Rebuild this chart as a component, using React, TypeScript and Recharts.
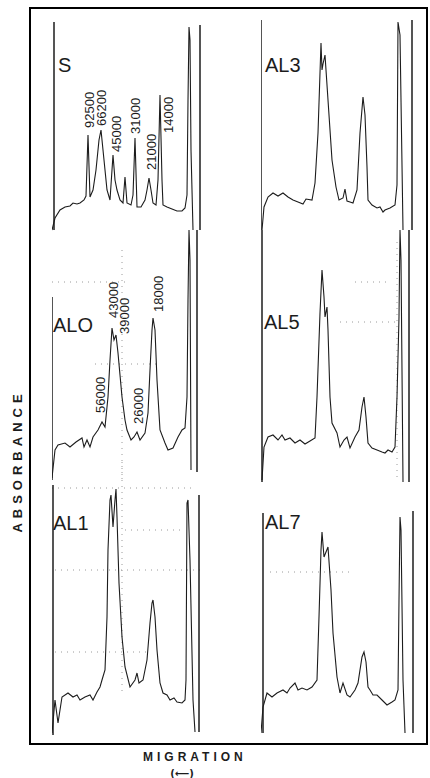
import React from 'react';
import { LineChart, Line, XAxis, YAxis, ReferenceLine } from 'recharts';

// densitometer scans: [migration, absorbance] (arbitrary units)
const traceS: [number, number][] = [
  [0, 1], [1.5, 7], [4, 11], [6.5, 12.5], [9, 13], [10.5, 14.5], [12.5, 14], [14, 14.5],
  [16, 16], [17, 18], [18, 48.5], [19, 17.5], [20.5, 21], [22, 31], [23.5, 46], [24.5, 51],
  [26, 36], [27.5, 21], [29, 16], [30.5, 38.5], [31.5, 26], [32.5, 21], [34, 16], [35.5, 14.5],
  [36.5, 27.5], [37.5, 14.5], [39.5, 13.5], [40.5, 18.5], [41.5, 47], [42.5, 12.5], [44.5, 12.5],
  [46.5, 16], [47.5, 21], [48.5, 27], [49.5, 21], [50.5, 14.5], [52, 13.5], [53, 26], [54, 68.5],
  [55, 26], [55.5, 13.5], [57.5, 12.5], [60, 11.5], [62.5, 10.5], [65, 10.5], [66.5, 12],
  [67.5, 18.5], [68, 66], [68.5, 102.5], [69, 96], [69.5, 41], [70.5, 1],
];

const traceAL0: [number, number][] = [
  [0, -8], [1.5, 6], [3, 8.5], [6.5, 9.5], [9, 7.5], [12, 10], [15, 12], [16, 7.5], [17.5, 11],
  [19, 7.5], [20.5, 12.5], [23, 16], [25, 20], [26.5, 17.5], [28, 32.5], [29, 51], [30, 67],
  [31, 61], [32, 63.5], [33, 54.5], [34, 43.5], [35, 32.5], [36.5, 21], [37.5, 16], [39.5, 11],
  [41, 12.5], [42.5, 15], [44, 11], [46.5, 14.5], [48, 24.5], [49, 46], [50, 66], [50.5, 72],
  [51.5, 66], [52.5, 41], [54, 16], [56.5, 9.5], [58, 6], [60.5, 7], [63, 12.5], [65, 16],
  [66.5, 17], [67.5, 32.5], [68, 81], [68.5, 116], [69, 101], [69.5, -4],
];

const traceAL1: [number, number][] = [
  [0, 1.5], [1.5, 18], [3, 6.5], [5, 19.5], [8, 21.5], [10.5, 19.5], [12.5, 20.5], [14, 18],
  [16.5, 19.5], [19, 20.5], [20.5, 18], [22.5, 22], [24, 24.5], [25, 28], [26.5, 33], [27.5, 59.5],
  [28, 93], [29, 118], [29.5, 120.5], [30.5, 104.5], [31.5, 118], [32, 123.5], [32.5, 109.5],
  [33.5, 76.5], [35, 49.5], [36.5, 34.5], [39, 24.5], [41.5, 28], [42.5, 31.5], [43.5, 26.5],
  [45.5, 28], [47.5, 38], [49, 56.5], [50, 66.5], [50.5, 68], [51.5, 59.5], [52.5, 43], [54, 26.5],
  [55.5, 21.5], [57.5, 20.5], [59, 18], [61, 19], [62.5, 17], [65, 16.5], [66.5, 18], [67, 28],
  [67.5, 116.5], [68, 118], [69, 88], [70.5, 18], [71.5, 2],
];

const traceAL3: [number, number][] = [
  [0.5, 1], [1.5, 12.5], [3.5, 17.5], [6, 19.5], [8.5, 18], [11, 19.5], [13.5, 17.5], [16, 16],
  [18.5, 15], [21, 14], [22.5, 16.5], [25.5, 16], [27, 24.5], [28.5, 49.5], [30, 94.5], [30.5, 81],
  [31, 84], [32, 88.5], [33.5, 66], [35.5, 36], [37.5, 22.5], [39, 16], [41, 17], [42, 21.5],
  [43, 15.5], [44.5, 15], [46, 14.5], [48, 21], [49.5, 49.5], [51, 67.5], [52, 58.5], [53, 32.5],
  [53.5, 16], [55.5, 13.5], [58, 12], [59.5, 12.5], [61, 10], [62, 11], [64.5, 12], [67, 13.5],
  [68, 23.5], [68.5, 105], [69.5, 98.5], [71, 1],
];

const traceAL5: [number, number][] = [
  [0.5, -9], [1.5, 7.5], [3.5, 12.5], [6, 13.5], [8.5, 11], [10.5, 13.5], [12, 11], [14.5, 12],
  [17, 9.5], [19.5, 11], [22, 9], [24.5, 10.5], [27, 12], [28, 32.5], [29.5, 74.5], [30.5, 96],
  [31.5, 82.5], [32, 72.5], [33, 77.5], [33.5, 66], [34.5, 32.5], [35.5, 19.5], [38, 14.5],
  [39.5, 7.5], [41.5, 11], [43, 12.5], [44.5, 7], [47, 12.5], [49, 16], [50.5, 27.5], [51.5, 32.5],
  [52.5, 22.5], [53.5, 9.5], [55.5, 7], [58, 6], [60.5, 5], [62, 4.5], [63.5, 6], [65.5, 5],
  [67, 7.5], [68, 32.5], [69, 72.5], [69.5, 116], [70, 101], [71, -10],
];

const traceAL7: [number, number][] = [
  [0, 1.5], [1, 14.5], [3, 21.5], [5.5, 19.5], [8, 21.5], [11, 23], [13, 21.5], [14.5, 24],
  [17, 26.5], [18.5, 23], [20.5, 24], [23, 23], [25.5, 24.5], [28, 28], [29, 59.5], [30, 93],
  [30.5, 102], [31.5, 89.5], [32.5, 92], [33.5, 94.5], [35, 73], [36, 51.5], [38, 29.5],
  [39.5, 21.5], [41, 26.5], [43, 20.5], [44.5, 19.5], [47, 23], [48.5, 26.5], [50.5, 39.5],
  [51.5, 42], [52.5, 37], [53.5, 24.5], [54.5, 23], [56, 20.5], [58, 20.5], [60.5, 18], [63, 15.5],
  [65.5, 17], [67, 18], [68.5, 23], [69, 68], [69.5, 109.5], [70, 103], [71, 28], [72, 1.5],
];

// molecular weight markers
const markersS = ['92500', '66200', '45000', '31000', '21000', '14000'];
const markersAL0 = ['43000', '39000', '18000', '56000', '26000'];

// scan edges: [migration, from, to]
const edgesS: [number, number, number][] = [[1, 1, 105], [74, 1, 103.5]];
const edgesAL0: [number, number, number][] = [[0, -9, 82.5], [72.5, -5, 116]];
const edgesAL1: [number, number, number][] = [[0.5, 0.5, 125.5], [73.5, 2, 120.5]];
const edgesAL3: [number, number, number][] = [[0, 1, 106], [75.5, 1, 106]];
const edgesAL5: [number, number, number][] = [[0.5, -10, 116], [74, -10, 116]];
const edgesAL7: [number, number, number][] = [[1, 1.5, 111.5], [76, 1.5, 112.5]];

// faint chart-paper rulings: [m1, a1, m2, a2]
const paperAL0: [number, number, number, number][] = [[0, 90, 36.5, 90], [21.5, 49, 54, 49], [35, 106, 35, -9]];
const paperAL1: [number, number, number, number][] = [[0, 124, 70, 124], [36.5, 103, 66.5, 103], [1.5, 83, 74, 83], [1.5, 42, 49, 42], [35, 137, 35, 20]];
const paperAL5: [number, number, number, number][] = [[47, 90, 64.5, 90], [39.5, 70, 69.5, 70], [68, 110, 68, -9]];
const paperAL7: [number, number, number, number][] = [[4.5, 82, 44.5, 82]];

const INK = '#1c1c1c';

interface PanelProps {
  trace: [number, number][];
  edges: [number, number, number][];
  paper?: [number, number, number, number][];
  left: number;
  top: number;
  height: number;
  yDomain: [number, number];
}

function Panel({ trace, edges, paper = [], left, top, height, yDomain }: PanelProps) {
  const data = trace.map(([m, a]) => ({ m, a }));
  return (
    <div style={{ position: 'absolute', left, top }}>
      <LineChart
        width={160}
        height={height}
        data={data}
        margin={{ top: 0, right: 0, bottom: 0, left: 0 }}
        style={{ overflow: 'visible' }}
      >
        <XAxis type="number" dataKey="m" domain={[0, 80]} allowDataOverflow hide />
        <YAxis type="number" domain={yDomain} allowDataOverflow hide />
        {paper.map(([m1, a1, m2, a2], i) => (
          <ReferenceLine
            key={'p' + i}
            segment={[{ x: m1, y: a1 }, { x: m2, y: a2 }]}
            stroke="#9a9a9a"
            strokeDasharray="1 5"
            strokeWidth={1}
            ifOverflow="visible"
          />
        ))}
        {edges.map(([m, from, to], i) => (
          <ReferenceLine
            key={'e' + i}
            segment={[{ x: m, y: from }, { x: m, y: to }]}
            stroke={INK}
            strokeWidth={1.5}
            ifOverflow="visible"
          />
        ))}
        <Line
          type="linear"
          dataKey="a"
          stroke={INK}
          strokeWidth={1.1}
          dot={false}
          isAnimationActive={false}
        />
      </LineChart>
    </div>
  );
}

const sans = "'Liberation Sans', Arial, sans-serif";

function Rotated({ x, y, text }: { x: number; y: number; text: string }) {
  return (
    <text
      x={x}
      y={y}
      transform={`rotate(-90 ${x} ${y})`}
      fontSize={13}
      fontFamily={sans}
      dominantBaseline="central"
      fill={INK}
    >
      {text}
    </text>
  );
}

export default function App() {
  const markerPosS: [number, number][] = [[89, 128], [101, 126], [116, 152], [135, 134], [151, 170], [168, 133]];
  const markerPosAL0: [number, number][] = [[113, 318], [124, 334], [158, 312], [100, 413], [138, 424]];
  return (
    <div style={{ position: 'relative', width: 430, height: 778, background: '#fff', overflow: 'hidden' }}>
      <style>{'body{margin:0}'}</style>
      <Panel trace={traceS} edges={edgesS} left={52} top={12} height={220} yDomain={[0, 110]} />
      <Panel trace={traceAL0} edges={edgesAL0} paper={paperAL0} left={52} top={230} height={252} yDomain={[-10, 116]} />
      <Panel trace={traceAL1} edges={edgesAL1} paper={paperAL1} left={52} top={462} height={274} yDomain={[0, 137]} />
      <Panel trace={traceAL3} edges={edgesAL3} left={261} top={12} height={220} yDomain={[0, 110]} />
      <Panel trace={traceAL5} edges={edgesAL5} paper={paperAL5} left={261} top={230} height={252} yDomain={[-10, 116]} />
      <Panel trace={traceAL7} edges={edgesAL7} paper={paperAL7} left={261} top={462} height={274} yDomain={[0, 137]} />
      <svg width={430} height={778} style={{ position: 'absolute', left: 0, top: 0, pointerEvents: 'none' }}>
        <rect x={30} y={8} width={397} height={736} fill="none" stroke="#000" strokeWidth={2} />
        <g fontFamily={sans} fontSize={20} fill={INK}>
          <text x={58} y={72}>S</text>
          <text x={53} y={332}>ALO</text>
          <text x={53} y={530}>AL1</text>
          <text x={265} y={72}>AL3</text>
          <text x={264} y={329}>AL5</text>
          <text x={265} y={529}>AL7</text>
        </g>
        {markersS.map((t, i) => (
          <Rotated key={t} x={markerPosS[i][0]} y={markerPosS[i][1]} text={t} />
        ))}
        {markersAL0.map((t, i) => (
          <Rotated key={t} x={markerPosAL0[i][0]} y={markerPosAL0[i][1]} text={t} />
        ))}
        <text
          x={17}
          y={461}
          transform="rotate(-90 17 461)"
          textAnchor="middle"
          dominantBaseline="central"
          fontFamily={sans}
          fontWeight="bold"
          fontSize={13}
          letterSpacing={5}
          fill={INK}
        >
          ABSORBANCE
        </text>
        <text x={143} y={761} fontFamily={sans} fontWeight="bold" fontSize={12} letterSpacing={4} fill={INK}>
          MIGRATION
        </text>
        <text x={182} y={777} textAnchor="middle" fontFamily="'DejaVu Sans', sans-serif" fontWeight="bold" fontSize={10} fill={INK}>
          (⟵)
        </text>
      </svg>
    </div>
  );
}
